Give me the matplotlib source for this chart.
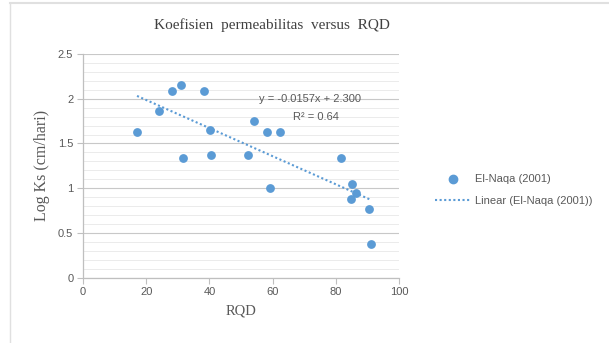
import numpy as np
import matplotlib
matplotlib.use("Agg")
import matplotlib.pyplot as plt
from matplotlib.lines import Line2D
from matplotlib.ticker import MultipleLocator

# data
rqd = [17.1, 23.9, 28.2, 31.1, 31.5, 38.3, 40.3, 40.4, 52.3, 54.0,
       58.3, 59.2, 62.2, 81.5, 85.1, 84.9, 86.4, 90.4, 91.2]
log_ks = [1.63, 1.86, 2.09, 2.15, 1.34, 2.09, 1.65, 1.37, 1.37, 1.75,
          1.63, 1.00, 1.63, 1.34, 1.05, 0.88, 0.95, 0.77, 0.38]
slope, intercept = -0.0157, 2.300
r2 = 0.64
x_ticks = [0, 20, 40, 60, 80, 100]
y_ticks = [0, 0.5, 1, 1.5, 2, 2.5]

BIRU = "#5B9BD5"
ABU = "#595959"
GARIS = "#BFBFBF"

fig = plt.figure(figsize=(6.09, 3.43), dpi=100)
ax = fig.add_axes([83 / 609, 1 - 277.7 / 343, (399 - 83) / 609, (277.7 - 54) / 343])

# outer chart-area border (left and top edges visible in the reference)
fig.add_artist(Line2D([10 / 609, 10 / 609], [0, 1 - 2.5 / 343], color="#E0E0E0", lw=1.0))
fig.add_artist(Line2D([10 / 609, 1], [1 - 2.5 / 343, 1 - 2.5 / 343], color="#E0E0E0", lw=1.5))

ax.scatter(rqd, log_ks, s=40, color=BIRU, zorder=3, linewidths=0)

xs = np.array([min(rqd), max(rqd)])
ax.plot(xs, slope * xs + intercept, linestyle=(0, (1, 1.2)), color=BIRU, lw=1.5, zorder=2)

ax.text(55.8, 1.94, f"y = {slope}x + {intercept:.3f}", fontsize=8, color=ABU,
        family="Liberation Sans", ha="left", va="bottom")
ax.text(66.3, 1.735, f"R² = {r2}", fontsize=8, color=ABU,
        family="Liberation Sans", ha="left", va="bottom")

ax.set_xlim(0, 100)
ax.set_ylim(0, 2.5)
ax.set_xticks(x_ticks)
ax.set_yticks(y_ticks)
ax.set_yticklabels([f"{v:g}" for v in y_ticks])
ax.yaxis.set_minor_locator(MultipleLocator(0.1))
ax.grid(which="major", axis="y", color="#C8C8C8", lw=0.8)
ax.grid(which="minor", axis="y", color="#EBEBEB", lw=0.7)
ax.set_axisbelow(True)
for s in ["top", "right"]:
    ax.spines[s].set_visible(False)
for s in ["left", "bottom"]:
    ax.spines[s].set_color(GARIS)
    ax.spines[s].set_linewidth(0.9)
ax.tick_params(which="major", length=4, color=GARIS, labelcolor=ABU, labelsize=8, pad=3)
ax.tick_params(which="minor", length=0)
for lbl in ax.get_xticklabels() + ax.get_yticklabels():
    lbl.set_family("Liberation Sans")

ax.set_xlabel("RQD", family="Liberation Serif", fontsize=10.5, color=ABU, labelpad=5)
ax.set_ylabel("Log Ks (cm/hari)", family="Liberation Serif", fontsize=11.5, color=ABU, labelpad=6)

fig.text(272 / 609, 1 - 25 / 343, "Koefisien  permeabilitas  versus  RQD", family="Liberation Serif",
         fontsize=11, color="#404040", ha="center", va="center")

handles = [
    Line2D([], [], marker="o", linestyle="none", color=BIRU, markersize=6),
    Line2D([], [], linestyle=(0, (1, 1.2)), color=BIRU, lw=1.5),
]
leg = fig.legend(handles, ["El-Naqa (2001)", "Linear (El-Naqa (2001))"],
                 loc="center left", bbox_to_anchor=(425 / 609, 1 - 190 / 343),
                 frameon=False, prop={"family": "Liberation Sans", "size": 8},
                 handlelength=3.2, labelspacing=1.0, handletextpad=0.4)
for t in leg.get_texts():
    t.set_color(ABU)

fig.savefig("out.png", dpi=100)
